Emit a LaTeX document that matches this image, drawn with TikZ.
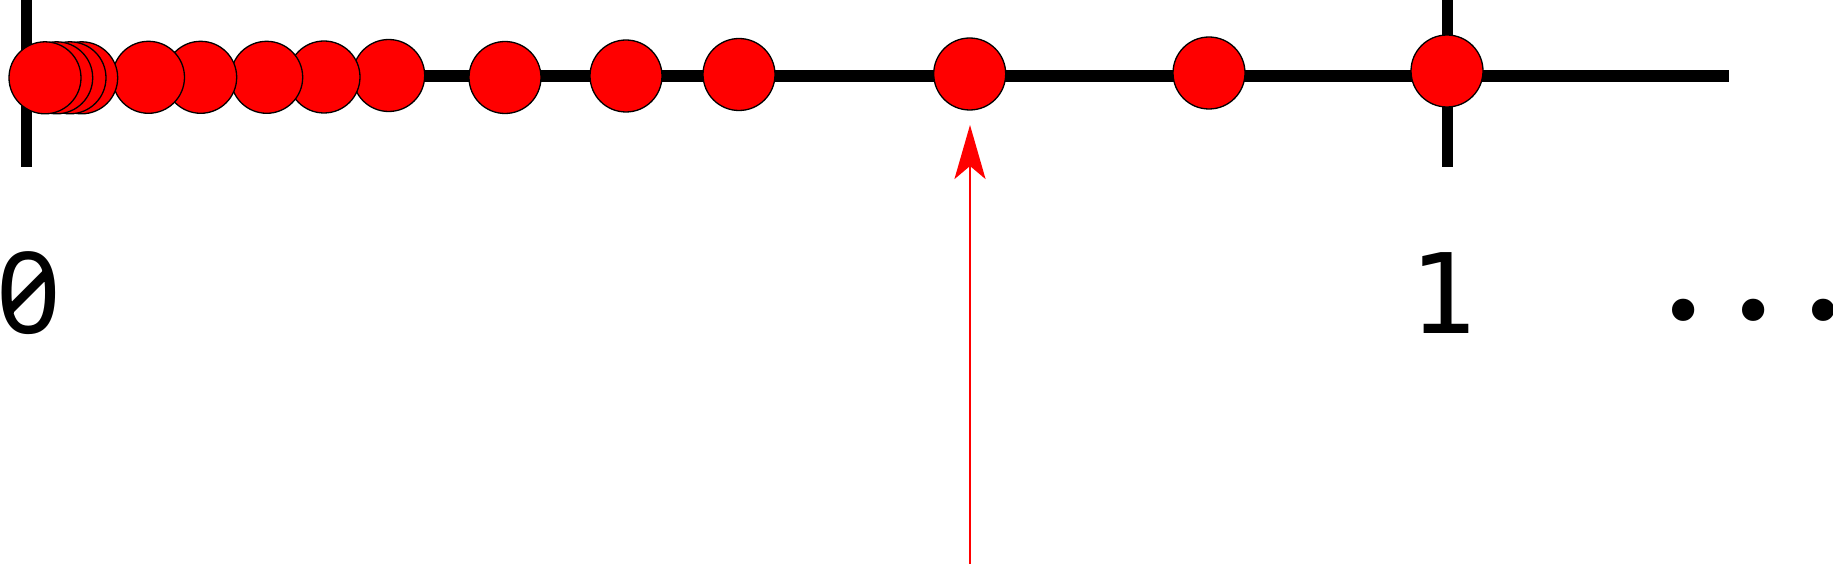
\documentclass[tikz,border=0pt]{standalone}
\usepackage{fontspec}
\setmonofont{DejaVu Sans Mono}
\newfontfamily\zerofont[RawFeature=+zero]{Noto Sans}
\newfontfamily\dotsfont[LetterSpace=19.75]{Fira Sans}
\usetikzlibrary{arrows.meta}
\begin{document}
\begin{tikzpicture}[x=1pt,y=-1pt,
  ball/.style={circle,draw=black,line width=1.3pt,fill=red,minimum size=72pt,inner sep=0pt},
  axisline/.style={line width=11.7pt},
  lab/.style={inner sep=0pt,anchor=base},
  pointer/.style={draw=red,line width=2.7pt,-{Stealth[length=54pt,width=31pt,inset=13pt,fill=red]}}
  ]
\useasboundingbox (0,0) rectangle (1833,564);
% axis and ticks
\coordinate (t0top) at (26.5,0);
\coordinate (t0bot) at (26.5,166.7);
\coordinate (t1top) at (1447.5,0);
\coordinate (t1bot) at (1447.5,166.7);
\coordinate (axl) at (26.5,75.8);
\coordinate (axr) at (1729,75.8);
\draw[axisline] (t0top) -- (t0bot);
\draw[axisline] (t1top) -- (t1bot);
\draw[axisline] (axl) -- (axr);
% samples, drawn right to left so the left ones lie on top
\foreach \n/\x/\y in {15/1447/71,14/1209/73,13/969.7/74,12/739/74.5,11/626/76,10/505/77.5,
  9/388.7/75.5,8/324/77,7/266.7/77.3,6/200.7/77.3,5/148.5/77.3,4/81.7/77.8,3/70/77.8,2/56.7/77.8,1/45/77.8}
  \node[ball] (c\n) at (\x,\y) {};
% labels
\node[lab,font=\fontsize{113}{113}\selectfont\zerofont] (l0) at (29,333) {0};
\node[lab,font=\fontsize{111}{111}\selectfont\ttfamily] (l1) at (1443,333) {1};
\node[lab,anchor=base west,font=\fontsize{160}{160}\selectfont\dotsfont] (ldots) at (1664,319) {...};
% pointer arrow
\coordinate (abot) at (970,564);
\coordinate (atip) at (970,125);
\draw[pointer] (abot) -- (atip);
\end{tikzpicture}
\end{document}
